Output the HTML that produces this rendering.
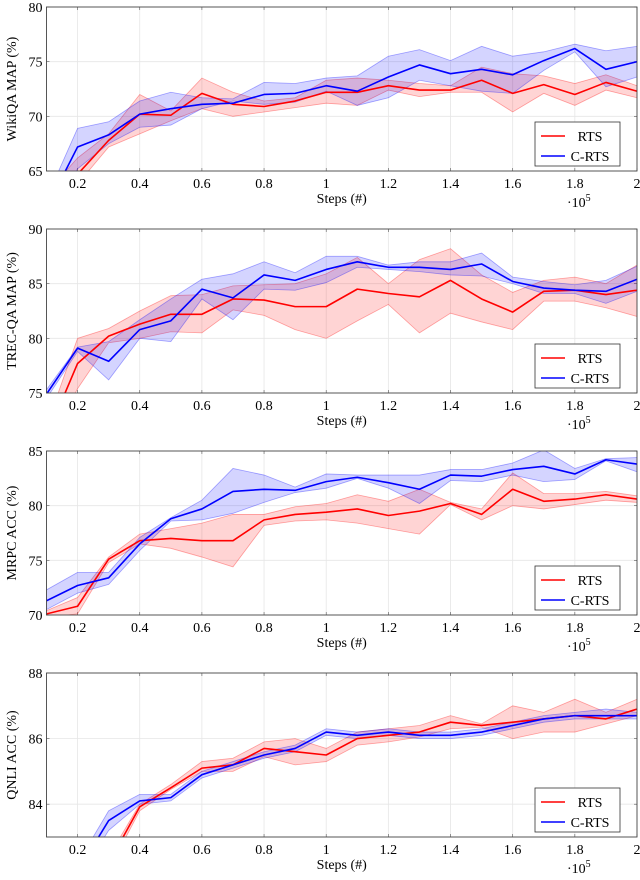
<!DOCTYPE html>
<html><head><meta charset="utf-8">
<style>
html,body{margin:0;background:#fff;overflow:hidden;width:640px;height:880px;}
svg text{font-family:"Liberation Serif",serif;fill:#000;}
</style></head>
<body>
<svg id="chart" width="640" height="880" xmlns="http://www.w3.org/2000/svg" style="display:block;overflow:hidden">
</svg>
<script>
const steps=[0.1,0.2,0.3,0.4,0.5,0.6,0.7,0.8,0.9,1.0,1.1,1.2,1.3,1.4,1.5,1.6,1.7,1.8,1.9,2.0];
const xTicks=[0.2,0.4,0.6,0.8,1,1.2,1.4,1.6,1.8,2];
const xTickLabels=["0.2","0.4","0.6","0.8","1","1.2","1.4","1.6","1.8","2"];
const panelTitles=["WikiQA MAP (%)","TREC-QA MAP (%)","MRPC ACC (%)","QNLI ACC (%)"];
const yRanges=[[65,80],[75,90],[70,85],[83,88]];
const yTicks=[[65,70,75,80],[75,80,85,90],[70,75,80,85],[84,86,88]];
// WikiQA
const wikiRts=[62.3,64.7,67.8,70.2,70.1,72.1,71.1,70.9,71.4,72.2,72.2,72.8,72.4,72.4,73.3,72.1,72.9,72.0,73.1,72.3];
const wikiRtsHi=[63.0,66.2,68.4,72.0,70.5,73.5,72.2,71.4,71.7,73.3,73.5,73.3,73.0,72.8,74.5,73.9,73.7,73.0,73.8,72.8];
const wikiRtsLo=[61.5,63.8,67.2,68.4,69.6,70.7,70.0,70.4,70.8,71.2,71.0,72.4,71.8,72.2,72.2,70.4,72.1,71.0,72.4,71.7];
const wikiCrts=[61.6,67.2,68.3,70.2,70.7,71.1,71.2,72.0,72.1,72.8,72.3,73.6,74.7,73.9,74.3,73.8,75.1,76.2,74.3,75.0];
const wikiCrtsHi=[62.5,68.9,69.5,71.4,72.2,71.7,71.6,73.1,73.0,73.5,73.7,75.5,76.1,75.1,76.4,75.5,75.9,76.6,76.0,76.4];
const wikiCrtsLo=[60.8,65.2,67.5,69.0,69.2,70.7,71.4,71.1,71.3,72.3,71.0,71.7,73.3,72.8,72.3,72.1,74.2,75.9,72.7,73.6];
// TREC-QA
const trecRts=[71.0,77.7,80.2,81.3,82.2,82.2,83.6,83.5,82.9,82.9,84.5,84.1,83.8,85.3,83.6,82.4,84.3,84.4,84.0,84.4];
const trecRtsHi=[72.0,80.0,80.9,82.5,83.9,84.0,84.8,84.9,85.0,85.9,87.4,85.0,87.2,88.2,85.8,84.2,85.3,85.6,85.0,86.7];
const trecRtsLo=[70.0,75.4,79.6,80.0,80.6,80.5,82.6,82.1,80.8,80.0,81.6,83.1,80.5,82.3,81.5,80.8,83.4,83.4,82.8,82.0];
const trecCrts=[74.9,79.1,77.9,80.8,81.6,84.5,83.7,85.8,85.3,86.3,87.0,86.5,86.5,86.3,86.8,85.2,84.6,84.4,84.3,85.4];
const trecCrtsHi=[75.3,79.2,79.7,81.7,83.6,85.4,85.9,87.0,86.0,87.5,87.5,86.7,87.0,87.0,87.8,85.6,85.2,84.9,85.3,86.6];
const trecCrtsLo=[74.5,78.8,76.2,80.0,79.7,83.6,81.7,84.5,84.4,85.1,86.5,86.3,86.1,85.8,85.7,85.0,84.1,84.1,83.2,84.3];
// MRPC
const mrpcRts=[70.1,70.8,75.1,76.8,77.0,76.8,76.8,78.7,79.2,79.4,79.7,79.1,79.5,80.2,79.2,81.5,80.4,80.6,81.0,80.6];
const mrpcRtsHi=[70.4,71.6,75.3,77.4,77.9,78.4,79.2,79.2,79.9,80.2,81.0,80.4,81.5,80.3,79.7,83.0,81.1,81.1,81.3,80.9];
const mrpcRtsLo=[69.8,70.1,74.8,76.5,76.1,75.3,74.4,78.2,78.6,78.7,78.4,77.9,77.4,80.1,78.7,80.0,79.7,80.1,80.5,80.3];
const mrpcCrts=[71.3,72.7,73.4,76.5,78.8,79.7,81.3,81.5,81.4,82.2,82.6,82.1,81.5,82.8,82.7,83.3,83.6,82.9,84.2,83.8];
const mrpcCrtsHi=[72.3,73.9,73.9,77.1,78.9,80.5,83.4,82.8,81.7,82.9,82.8,82.8,82.8,83.3,83.3,83.9,85.1,83.4,84.3,84.4];
const mrpcCrtsLo=[70.5,72.0,72.8,75.9,78.6,78.7,79.3,80.3,81.2,81.6,82.5,81.6,80.2,82.3,82.2,82.8,82.2,82.4,84.1,83.1];
// QNLI
const qnliRts=[79.5,80.8,82.2,83.92,84.5,85.1,85.2,85.7,85.6,85.5,86.0,86.1,86.2,86.5,86.4,86.5,86.6,86.7,86.6,86.9];
const qnliRtsHi=[79.7,81.0,82.4,84.0,84.6,85.3,85.4,85.9,86.0,85.7,86.2,86.3,86.4,86.7,86.45,87.0,86.8,87.2,86.8,87.2];
const qnliRtsLo=[79.3,80.6,82.0,83.8,84.45,85.0,85.0,85.45,85.2,85.3,85.8,85.9,86.05,86.3,86.35,86.0,86.2,86.2,86.45,86.7];
const qnliCrts=[80.4,81.95,83.5,84.1,84.2,84.9,85.2,85.5,85.7,86.2,86.1,86.2,86.1,86.1,86.2,86.4,86.6,86.7,86.7,86.7];
const qnliCrtsHi=[80.6,82.2,83.8,84.3,84.3,85.0,85.3,85.6,85.8,86.3,86.2,86.3,86.2,86.2,86.3,86.5,86.7,86.8,86.9,86.8];
const qnliCrtsLo=[80.2,81.7,83.2,84.0,84.1,84.8,85.1,85.4,85.6,86.1,86.0,86.1,86.0,86.0,86.1,86.3,86.5,86.6,86.6,86.6];

const panels=[
 {key:"wikiqa",rts:wikiRts,rh:wikiRtsHi,rl:wikiRtsLo,c:wikiCrts,ch:wikiCrtsHi,cl:wikiCrtsLo},
 {key:"trecqa",rts:trecRts,rh:trecRtsHi,rl:trecRtsLo,c:trecCrts,ch:trecCrtsHi,cl:trecCrtsLo},
 {key:"mrpc",rts:mrpcRts,rh:mrpcRtsHi,rl:mrpcRtsLo,c:mrpcCrts,ch:mrpcCrtsHi,cl:mrpcCrtsLo},
 {key:"qnli",rts:qnliRts,rh:qnliRtsHi,rl:qnliRtsLo,c:qnliCrts,ch:qnliCrtsHi,cl:qnliCrtsLo}
];
const NS="http://www.w3.org/2000/svg";
const svg=document.getElementById('chart');
function mk(tag,attrs,parent){const e=document.createElementNS(NS,tag);for(const k in attrs)e.setAttribute(k,attrs[k]);(parent||svg).appendChild(e);return e;}
const L=46.5,R=637,H=164;
const xs=v=>L+(v-0.1)/(1.9)*(R-L);
panels.forEach((p,i)=>{
  const top=7+i*222,bot=top+H;
  const [y0,y1]=yRanges[i];
  const ys=v=>bot-(v-y0)/(y1-y0)*H;
  const g=mk('g',{});
  
  
  const cp=mk('clipPath',{id:'clip'+i},g);
  mk('rect',{x:L,y:top,width:R-L,height:H},cp);
  xTicks.forEach(t=>{const l=mk('line',{x1:xs(t),x2:xs(t),y1:top,y2:bot,stroke:'#e6e6e6','stroke-width':0.8},g);
    
    mk('line',{x1:xs(t),x2:xs(t),y1:bot,y2:bot-3,stroke:'#555','stroke-width':0.6},g);
    mk('line',{x1:xs(t),x2:xs(t),y1:top,y2:top+3,stroke:'#555','stroke-width':0.6},g);});
  yTicks[i].forEach(t=>{if(t>y0&&t<y1){const l=mk('line',{x1:L,x2:R,y1:ys(t),y2:ys(t),stroke:'#e6e6e6','stroke-width':0.8},g);
    }
    mk('line',{x1:L,x2:L+3,y1:ys(t),y2:ys(t),stroke:'#555','stroke-width':0.6},g);
    mk('line',{x1:R,x2:R-3,y1:ys(t),y2:ys(t),stroke:'#555','stroke-width':0.6},g);
    const tl=mk('text',{x:L-4,y:ys(t)+5,'text-anchor':'end','font-size':14},g);tl.textContent=t;
    });
  const dg=mk('g',{'clip-path':'url(#clip'+i+')'},g);
  function band(hi,lo,col,name){
    let d='M'+steps.map((s,k)=>xs(s)+','+ys(hi[k])).join('L');
    d+='L'+steps.map((s,k)=>xs(s)+','+ys(lo[k])).reverse().join('L')+'Z';
    const b=mk('path',{d:d,fill:col,'fill-opacity':0.17,stroke:'none'},dg);
    
    [hi,lo].forEach(a=>mk('polyline',{points:steps.map((s,k)=>xs(s)+','+ys(a[k])).join(' '),fill:'none',stroke:col,'stroke-opacity':0.35,'stroke-width':0.8},dg));
  }
  function line(a,col,name){const l=mk('polyline',{points:steps.map((s,k)=>xs(s)+','+ys(a[k])).join(' '),fill:'none',stroke:col,'stroke-width':1.6,'stroke-linejoin':'round'},dg);
    }
  band(p.rh,p.rl,'#ff0000','rts-band');
  band(p.ch,p.cl,'#0000ff','crts-band');
  line(p.rts,'#ff0000','rts-line');
  line(p.c,'#0000ff','crts-line');
  const fr=mk('rect',{x:L,y:top,width:R-L,height:H,fill:'none',stroke:'#444','stroke-width':0.9},g);
  
  xTicks.forEach((t,k)=>{const tl=mk('text',{x:xs(t),y:bot+17,'text-anchor':'middle','font-size':14},g);tl.textContent=xTickLabels[k];
    });
  const xt=mk('text',{x:(L+R)/2,y:bot+32,'text-anchor':'middle','font-size':14},g);xt.textContent='Steps (#)';
  
  const ex=mk('text',{x:567,y:bot+36,'font-size':14},g);ex.innerHTML='·10<tspan dy="-6" font-size="10">5</tspan>';
  
  const yt=mk('text',{x:0,y:0,'text-anchor':'middle','font-size':14,transform:'translate(16,'+(top+H/2)+') rotate(-90)'},g);yt.textContent=panelTitles[i];
  
  const lg=mk('g',{},g);
  
  mk('rect',{x:535,y:bot-49,width:85,height:44,fill:'#fff',stroke:'#333','stroke-width':0.8},lg);
  mk('line',{x1:541,x2:565,y1:bot-35,y2:bot-35,stroke:'#ff0000','stroke-width':1.6},lg);
  const t1=mk('text',{x:590,y:bot-30,'text-anchor':'middle','font-size':14},lg);t1.textContent='RTS';
  
  mk('line',{x1:541,x2:565,y1:bot-15,y2:bot-15,stroke:'#0000ff','stroke-width':1.6},lg);
  const t2=mk('text',{x:590,y:bot-10,'text-anchor':'middle','font-size':14},lg);t2.textContent='C-RTS';
  
});
</script>
</body></html>
